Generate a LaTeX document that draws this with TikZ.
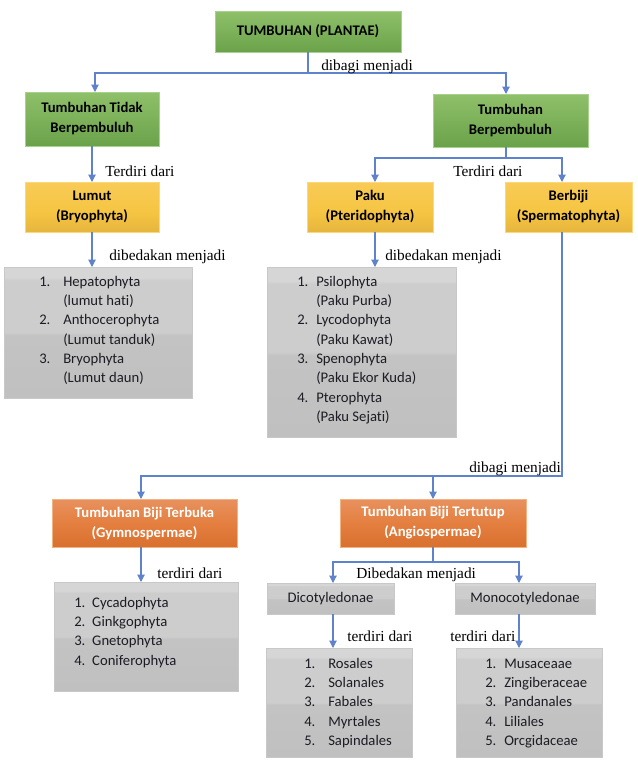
\documentclass[tikz,border=0pt]{standalone}
\usepackage{fontspec}
\setmainfont{Liberation Serif}
\newfontfamily\boxfont[Ligatures=NoCommon]{Carlito}
\usetikzlibrary{arrows.meta}

% palette
\definecolor{linkblue}{HTML}{5F82CC}
\definecolor{grnT}{HTML}{8FC06A}
\definecolor{grnB}{HTML}{6AA24A}
\definecolor{grnE}{HTML}{A9D18E}
\definecolor{ylwT}{HTML}{F9CB57}
\definecolor{ylwM}{HTML}{F5C542}
\definecolor{ylwB}{HTML}{E6B53E}
\definecolor{ylwE}{HTML}{FBD978}
\definecolor{orgT}{HTML}{E8915E}
\definecolor{orgM}{HTML}{E47F40}
\definecolor{orgB}{HTML}{D8702E}
\definecolor{orgE}{HTML}{F4B183}
\definecolor{gryT}{HTML}{D6D6D6}
\definecolor{gryU}{HTML}{CDCDCD}
\definecolor{gryL}{HTML}{C3C3C3}
\definecolor{gryB}{HTML}{C0C0C0}
\definecolor{gryE}{HTML}{C8C8C8}
\definecolor{itemtext}{HTML}{1C1C24}

% fills (a path's box spans 25bp..75bp of each shading)
\pgfdeclareverticalshading{greenfill}{100bp}{color(0bp)=(grnB); color(25bp)=(grnB); color(75bp)=(grnT); color(100bp)=(grnT)}
\pgfdeclareverticalshading{yellowfill}{100bp}{color(0bp)=(ylwB); color(25bp)=(ylwB); color(45bp)=(ylwM); color(75bp)=(ylwT); color(100bp)=(ylwT)}
\pgfdeclareverticalshading{orangefill}{100bp}{color(0bp)=(orgB); color(25bp)=(orgB); color(50bp)=(orgM); color(75bp)=(orgT); color(100bp)=(orgT)}
\pgfdeclareverticalshading{grayfill}{100bp}{color(0bp)=(gryB); color(25bp)=(gryB); color(49bp)=(gryL); color(50bp)=(gryU); color(70bp)=(gryU); color(71bp)=(gryT); color(75bp)=(gryT); color(100bp)=(gryT)}

\tikzset{
  box/.style={rectangle, inner sep=0pt, outer sep=0pt, line width=0.75pt, align=center},
  greenbox/.style={box, draw=grnE, shading=greenfill, font=\boxfont\bfseries\fontsize{11}{15}\selectfont},
  yellowbox/.style={box, draw=ylwE, shading=yellowfill, font=\boxfont\bfseries\fontsize{11}{15}\selectfont},
  orangebox/.style={box, draw=orgE, shading=orangefill, text=white, font=\boxfont\bfseries\fontsize{11}{15}\selectfont},
  graybox/.style={box, draw=gryE, shading=grayfill, text=itemtext, font=\boxfont\fontsize{11}{15}\selectfont},
  conn/.style={draw=linkblue, line width=0.8pt},
  arr/.style={conn, -{Triangle[width=5.5pt,length=5.5pt]}},
  lbl/.style={anchor=base west, inner sep=0pt, font=\fontsize{11.5}{13}\selectfont},
  listtext/.style={anchor=base west, inner sep=0pt, text=itemtext, font=\boxfont\fontsize{11}{14.5}\selectfont},
}

% \placebox{name}{x1}{y1}{x2}{y2}{style}{text}
\newcommand\placebox[7]{%
  \node[#6, minimum width={(#4-#2)*0.75pt}, minimum height={(#5-#3)*0.75pt}]
    (#1) at ({(#2+#4)/2},{(#3+#5)/2}) {#7};}

\begin{document}
\begin{tikzpicture}[x=0.75pt, y=-0.75pt]
\useasboundingbox (0,0) rectangle (638,772);

% ---- boxes ----
\placebox{top}{215}{11}{401}{52}{greenbox}{TUMBUHAN (PLANTAE)}
\placebox{tidak}{25}{92}{159}{146}{greenbox}{Tumbuhan Tidak\\Berpembuluh}
\placebox{berp}{433}{94}{588}{147}{greenbox}{Tumbuhan\\Berpembuluh}
\placebox{lumut}{25}{182}{159}{232}{yellowbox}{Lumut\\(Bryophyta)}
\placebox{paku}{307}{182}{433}{232}{yellowbox}{Paku\\(Pteridophyta)}
\placebox{berbiji}{505}{182}{632}{232}{yellowbox}{Berbiji\\(Spermatophyta)}
\placebox{list1}{4}{267}{192}{398}{graybox}{}
\placebox{list2}{267}{267}{456}{437}{graybox}{}
\placebox{gymno}{52}{499}{237}{547}{orangebox}{Tumbuhan Biji Terbuka\\(Gymnospermae)}
\placebox{angio}{340}{499}{526}{547}{orangebox}{Tumbuhan Biji Tertutup\\(Angiospermae)}
\placebox{list3}{54}{582}{238}{691}{graybox}{}
\placebox{dicot}{267}{583}{394}{614}{graybox}{Dicotyledonae}
\placebox{mono}{455}{583}{595}{614}{graybox}{Monocotyledonae}
\placebox{list4}{266}{648}{412}{757}{graybox}{}
\placebox{list5}{456}{648}{602}{757}{graybox}{}

% ---- list contents ----
\node[listtext] (items1) at (39,286) {\begin{tabular}[t]{@{}p{18pt}@{}l@{}}
1.&Hepatophyta\\ &(lumut hati)\\2.&Anthocerophyta\\ &(Lumut tanduk)\\3.&Bryophyta\\ &(Lumut daun)\end{tabular}};
\node[listtext] (items2) at (297,286) {\begin{tabular}[t]{@{}p{14.25pt}@{}l@{}}
1.&Psilophyta\\ &(Paku Purba)\\2.&Lycodophyta\\ &(Paku Kawat)\\3.&Spenophyta\\ &(Paku Ekor Kuda)\\4.&Pterophyta\\ &(Paku Sejati)\end{tabular}};
\node[listtext] (items3) at (74,607) {\begin{tabular}[t]{@{}p{13.5pt}@{}l@{}}
1.&Cycadophyta\\2.&Ginkgophyta\\3.&Gnetophyta\\4.&Coniferophyta\end{tabular}};
\node[listtext] (items4) at (304,668) {\begin{tabular}[t]{@{}p{18pt}@{}l@{}}
1.&Rosales\\2.&Solanales\\3.&Fabales\\4.&Myrtales\\5.&Sapindales\end{tabular}};
\node[listtext] (items5) at (485,668) {\begin{tabular}[t]{@{}p{14.25pt}@{}l@{}}
1.&Musaceaae\\2.&Zingiberaceae\\3.&Pandanales\\4.&Liliales\\5.&Orcgidaceae\end{tabular}};

% ---- junction points ----
\coordinate (j0) at (308,73);
\coordinate (j0l) at (95,73);
\coordinate (j0r) at (506,73);
\coordinate (j1) at (506,158);
\coordinate (j1l) at (375,158);
\coordinate (j1r) at (562,158);
\coordinate (j2) at (562,476);
\coordinate (j2l) at (141,476);
\coordinate (j2m) at (433,476);
\coordinate (j3) at (433,562);
\coordinate (j3l) at (333,562);
\coordinate (j3r) at (519,562);

% ---- connectors ----
\draw[conn] (top.south) -- (j0);
\draw[arr] (j0) -- (j0l) -- (j0l |- tidak.north);
\draw[arr] (j0) -- (j0r) -- (j0r |- berp.north);

\draw[arr] (tidak.south) -- (lumut.north);
\draw[conn] (j1 |- berp.south) -- (j1);
\draw[arr] (j1) -- (j1l) -- (j1l |- paku.north);
\draw[arr] (j1) -- (j1r) -- (j1r |- berbiji.north);

\draw[arr] (lumut.south) -- (lumut.south |- list1.north);
\draw[arr] (j1l |- paku.south) -- (j1l |- list2.north);

\draw[conn] (j2 |- berbiji.south) -- (j2) -- (j2m);
\draw[arr] (j2m) -- (j2l) -- (j2l |- gymno.north);
\draw[arr] (j2m) -- (j2m |- angio.north);

\draw[arr] (j2l |- gymno.south) -- (j2l |- list3.north);
\draw[conn] (angio.south) -- (j3);
\draw[arr] (j3) -- (j3l) -- (j3l |- dicot.north);
\draw[arr] (j3) -- (j3r) -- (j3r |- mono.north);
\draw[arr] (j3l |- dicot.south) -- (j3l |- list4.north);
\draw[arr] (j3r |- mono.south) -- (j3r |- list5.north);

% ---- connector labels ----
\node[lbl] (lb1) at (321,70) {dibagi menjadi};
\node[lbl] (lb2) at (105,176) {Terdiri dari};
\node[lbl] (lb3) at (453,176) {Terdiri dari};
\node[lbl] (lb4) at (109,260) {dibedakan menjadi};
\node[lbl] (lb5) at (385,260) {dibedakan menjadi};
\node[lbl] (lb6) at (469,472) {dibagi menjadi};
\node[lbl] (lb7) at (157,578) {terdiri dari};
\node[lbl] (lb8) at (356,578) {Dibedakan menjadi};
\node[lbl] (lb9) at (347,641) {terdiri dari};
\node[lbl] (lb10) at (450,641) {terdiri dari};
\end{tikzpicture}
\end{document}
